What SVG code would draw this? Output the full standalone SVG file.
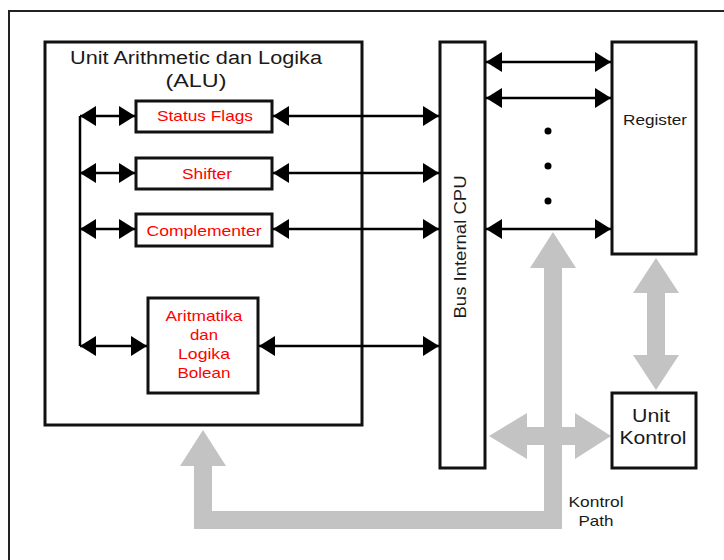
<svg xmlns="http://www.w3.org/2000/svg" width="724" height="560" viewBox="0 0 724 560">
<defs>
<style>
.box{fill:#fff;stroke:#111;stroke-width:3}
.lbl{font-family:"Liberation Sans",Arial,sans-serif;fill:#1a1a1a;text-anchor:middle}
.red{font-family:"Liberation Sans",Arial,sans-serif;fill:#ff0000;text-anchor:middle;font-size:15px}
.ln{stroke:#000;stroke-width:2.5;fill:none}
.gray{fill:#c3c3c3}
</style>
<marker id="ah" markerUnits="userSpaceOnUse" markerWidth="17" markerHeight="20" refX="16" refY="10" orient="auto-start-reverse" viewBox="0 0 17 20">
<path d="M0,0 L16,10 L0,20 z" fill="#000"/>
</marker>
</defs>
<rect x="0" y="0" width="724" height="560" fill="#fff"/>
<rect x="9" y="11" width="730" height="560" fill="none" stroke="#222" stroke-width="2"/>

<g id="control-paths">
<polygon class="gray" points="656,258 679,293 665,293 665,355 679,355 656,390 633,355 647,355 647,293 633,293"/>
<polygon class="gray" points="489,436 527,413 527,427 575,427 575,413 611,436 575,459 575,445 527,445 527,459"/>
<polygon class="gray" points="553,232 576,268 562,268 562,529 194,529 194,466 180,466 203,430 226,466 212,466 212,511 544,511 544,268 530,268"/>
</g>

<g id="alu">
<rect class="box" x="45" y="42" width="317" height="383"/>
<text class="lbl" x="196" y="64" font-size="18" textLength="252" lengthAdjust="spacingAndGlyphs">Unit Arithmetic dan Logika</text>
<text class="lbl" x="196" y="87" font-size="18" textLength="61" lengthAdjust="spacingAndGlyphs">(ALU)</text>
</g>
<g id="status-flags">
<rect class="box" x="136" y="101" width="136" height="31"/>
<text class="red" x="205" y="121" textLength="96" lengthAdjust="spacingAndGlyphs">Status Flags</text>
</g>
<g id="shifter">
<rect class="box" x="136" y="158" width="136" height="31"/>
<text class="red" x="207" y="179" textLength="50" lengthAdjust="spacingAndGlyphs">Shifter</text>
</g>
<g id="complementer">
<rect class="box" x="136" y="214" width="136" height="32"/>
<text class="red" x="204" y="236" textLength="115" lengthAdjust="spacingAndGlyphs">Complementer</text>
</g>
<g id="aritmatika">
<rect class="box" x="148" y="298" width="110" height="95"/>
<text class="red" x="204" y="321" textLength="77" lengthAdjust="spacingAndGlyphs">Aritmatika</text>
<text class="red" x="204" y="340" textLength="28" lengthAdjust="spacingAndGlyphs">dan</text>
<text class="red" x="204" y="359" textLength="52" lengthAdjust="spacingAndGlyphs">Logika</text>
<text class="red" x="204" y="378" textLength="53" lengthAdjust="spacingAndGlyphs">Bolean</text>
</g>
<g id="bus">
<rect class="box" x="440" y="42" width="45" height="426"/>
<text class="lbl" font-size="16" transform="translate(466,247) rotate(-90)" textLength="143" lengthAdjust="spacingAndGlyphs">Bus Internal CPU</text>
</g>
<g id="register">
<rect class="box" x="612" y="42" width="84" height="212"/>
<text class="lbl" x="655" y="125" font-size="15.5" textLength="64" lengthAdjust="spacingAndGlyphs">Register</text>
</g>
<g id="unit-kontrol">
<rect class="box" x="612" y="393" width="84" height="75"/>
<text class="lbl" x="651" y="422" font-size="19" textLength="38" lengthAdjust="spacingAndGlyphs">Unit</text>
<text class="lbl" x="653" y="444" font-size="19" textLength="67" lengthAdjust="spacingAndGlyphs">Kontrol</text>
</g>
<g id="kontrol-path-label">
<text class="lbl" x="596" y="507" font-size="15" textLength="55" lengthAdjust="spacingAndGlyphs">Kontrol</text>
<text class="lbl" x="596" y="526" font-size="15" textLength="35" lengthAdjust="spacingAndGlyphs">Path</text>
</g>
<g id="dots" fill="#000">
<circle cx="548" cy="131" r="3.5"/>
<circle cx="548" cy="166" r="3.5"/>
<circle cx="548" cy="201" r="3.5"/>
</g>

<g id="connectors">
<line class="ln" x1="80" y1="116" x2="80" y2="346"/>
<line class="ln" x1="80" y1="116" x2="135" y2="116" marker-start="url(#ah)" marker-end="url(#ah)"/>
<line class="ln" x1="80" y1="173" x2="135" y2="173" marker-start="url(#ah)" marker-end="url(#ah)"/>
<line class="ln" x1="80" y1="229" x2="135" y2="229" marker-start="url(#ah)" marker-end="url(#ah)"/>
<line class="ln" x1="80" y1="346" x2="147" y2="346" marker-start="url(#ah)" marker-end="url(#ah)"/>
<line class="ln" x1="273" y1="116" x2="439" y2="116" marker-start="url(#ah)" marker-end="url(#ah)"/>
<line class="ln" x1="273" y1="173" x2="439" y2="173" marker-start="url(#ah)" marker-end="url(#ah)"/>
<line class="ln" x1="273" y1="229" x2="439" y2="229" marker-start="url(#ah)" marker-end="url(#ah)"/>
<line class="ln" x1="259" y1="346" x2="439" y2="346" marker-start="url(#ah)" marker-end="url(#ah)"/>
<line class="ln" x1="486" y1="62" x2="611" y2="62" marker-start="url(#ah)" marker-end="url(#ah)"/>
<line class="ln" x1="486" y1="98" x2="611" y2="98" marker-start="url(#ah)" marker-end="url(#ah)"/>
<line class="ln" x1="486" y1="229" x2="611" y2="229" marker-start="url(#ah)" marker-end="url(#ah)"/>
</g>
</svg>
